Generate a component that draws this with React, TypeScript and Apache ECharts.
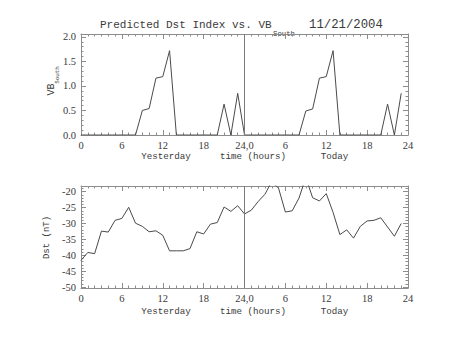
import React, { useEffect, useRef } from 'react';
import * as echarts from 'echarts';

// VB_South, hourly, yesterday hours 0-23 then today hours 0-23 (x = 0..47)
const vbSouth = [
  0, 0, 0, 0, 0, 0, 0, 0, 0, 0.5, 0.54, 1.16, 1.19, 1.72, 0, 0, 0, 0, 0, 0, 0, 0.63, 0, 0.85,
  0, 0, 0, 0, 0, 0, 0, 0, 0, 0.49, 0.53, 1.16, 1.19, 1.72, 0, 0, 0, 0, 0, 0, 0, 0.63, 0, 0.85,
];
// Predicted Dst (nT)
const dst = [
  -41.6, -39.1, -39.5, -32.4, -32.7, -29.0, -28.4, -24.9, -29.9, -30.9, -32.6, -32.3,
  -33.7, -38.6, -38.6, -38.6, -37.9, -32.6, -33.3, -30.2, -29.7, -24.8, -26.2, -24.4,
  -27.0, -25.8, -23.1, -20.8, -16.8, -18.9, -26.4, -26.0, -22.0, -15.5, -21.9, -22.9,
  -20.6, -26.5, -33.5, -32.0, -34.6, -30.9, -29.2, -29.0, -28.2, -31.1, -34.0, -30.0,
];
const xTickLabels: Record<number, string> = { 0: '0', 6: '6', 12: '12', 18: '18', 24: '24,0', 30: '6', 36: '12', 42: '18', 48: '24' };
const dividerHour = [24];

const TXT = '#3a3a3a';
const MONO = 'Liberation Mono';
const SERIF = 'Liberation Serif';
const boxLine = { color: '#8c8c8c', width: 1 };

function xAxesFor(gridIndex: number) {
  const base: any = {
    type: 'value', gridIndex, min: 0, max: 48, interval: 6,
    axisLine: { show: true, onZero: false, lineStyle: boxLine },
    axisTick: { show: true, inside: true, length: 5, lineStyle: boxLine },
    minorTick: { show: true, splitNumber: 6, length: 2.5, lineStyle: boxLine },
    splitLine: { show: false },
  };
  return [
    {
      ...base, position: 'bottom',
      axisLabel: {
        show: true, margin: 5, color: TXT, fontFamily: SERIF, fontSize: 10.5,
        formatter: (v: number) => xTickLabels[v] ?? '',
      },
    },
    { ...base, position: 'top', axisLabel: { show: false } },
  ];
}

function yAxesFor(gridIndex: number, extra: any, fmt: (v: number) => string) {
  const base: any = {
    type: 'value', gridIndex, ...extra,
    axisLine: { show: true, onZero: false, lineStyle: boxLine },
    axisTick: { show: true, inside: true, length: 5, lineStyle: boxLine },
    minorTick: { show: true, splitNumber: 5, length: 2.5, lineStyle: boxLine },
    splitLine: { show: false },
  };
  return [
    {
      ...base, position: 'left',
      axisLabel: { show: true, margin: 5, color: TXT, fontFamily: SERIF, fontSize: 10.5, formatter: fmt, padding: [0, 0, 3, 0] },
    },
    { ...base, position: 'right', axisLabel: { show: false } },
  ];
}

const markLine = {
  silent: true, symbol: ['none', 'none'], label: { show: false },
  lineStyle: { color: '#7a7a7a', width: 1, type: 'solid' },
  data: dividerHour.map((h) => ({ xAxis: h })),
};

export default function App() {
  const ref = useRef<HTMLDivElement>(null);
  useEffect(() => {
    if (!ref.current) return;
    const chart = echarts.init(ref.current, undefined, { renderer: 'svg' });
    const txt = (text: string, x: number, y: number, size: number, align = 'left', rot = 0, family = MONO) => ({
      type: 'text', x, y, rotation: rot, silent: true,
      style: { text, fill: TXT, fontFamily: family, fontSize: size, align, verticalAlign: 'middle' },
    });
    const option: any = {
      animation: false,
      backgroundColor: '#ffffff',
      grid: [
        { left: 81, width: 327, top: 34, height: 101 },
        { left: 81, width: 327, top: 186, height: 102 },
      ],
      xAxis: [...xAxesFor(0), ...xAxesFor(1)],
      yAxis: [
        ...yAxesFor(0, { min: 0, max: 2.06, interval: 0.5 }, (v: number) =>
          Math.abs(v / 0.5 - Math.round(v / 0.5)) < 1e-6 ? v.toFixed(1) : ''),
        ...yAxesFor(1, { min: -50.3, max: -18.2, minInterval: 5, maxInterval: 5, splitNumber: 6 }, (v: number) =>
          Math.abs(v / 5 - Math.round(v / 5)) < 1e-6 ? String(Math.round(v)) : ''),
      ],
      series: [
        {
          type: 'line', xAxisIndex: 0, yAxisIndex: 0, showSymbol: false, clip: true,
          lineStyle: { color: '#4a4a4a', width: 1 },
          data: vbSouth.map((v, i) => [i, v]),
          markLine,
        },
        {
          type: 'line', xAxisIndex: 2, yAxisIndex: 2, showSymbol: false, clip: true,
          lineStyle: { color: '#4a4a4a', width: 1 },
          data: dst.map((v, i) => [i, v]),
          markLine,
        },
      ],
      graphic: [
        txt('Predicted Dst Index vs. VB', 100, 25, 11),
        txt('South', 273, 34, 7.3),
        txt('11/21/2004', 309, 25, 12.3),
        txt('Yesterday', 166, 156, 9.2, 'center'),
        txt('time (hours)', 253, 156, 9.2, 'center'),
        txt('Today', 334.5, 156, 9.2, 'center'),
        txt('Yesterday', 166, 311, 9.2, 'center'),
        txt('time (hours)', 253, 311, 9.2, 'center'),
        txt('Today', 334.5, 311, 9.2, 'center'),
        txt('VB', 51.5, 89.5, 10, 'center', Math.PI / 2),
        txt('South', 57.5, 75, 5.8, 'center', Math.PI / 2),
        txt('Dst (nT)', 47, 237.5, 9, 'center', Math.PI / 2),
      ],
    };
    chart.setOption(option);
    return () => chart.dispose();
  }, []);
  return <div ref={ref} style={{ position: 'fixed', left: 0, top: 0, width: 453, height: 340 }} />;
}
